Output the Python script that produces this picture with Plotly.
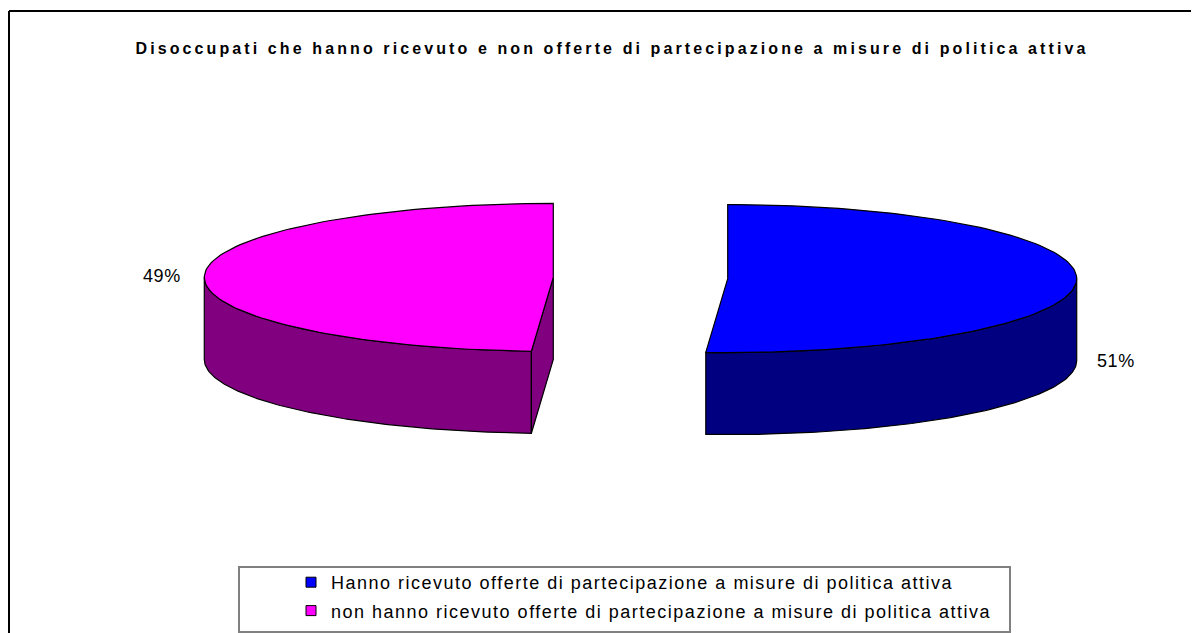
import numpy as np
import plotly.graph_objects as go

# ---------------- data ----------------
categories = [
    "Hanno ricevuto offerte di partecipazione a misure di politica attiva",
    "non hanno ricevuto offerte di partecipazione a misure di politica attiva",
]
values = [51, 49]
title_text = "Disoccupati che hanno ricevuto e non offerte di partecipazione a misure di politica attiva"

# ---------------- style ----------------
top_colors = ["#0000FF", "#FF00FF"]
side_colors = ["#000080", "#800080"]
W, H = 1199, 633
OFF = 8                    # page body margin of the html page
CX, CY = 640.5, 278.0      # pie centre (pixels)
RX, RY = 349.0, 74.0       # ellipse radii of top face
DEPTH = 82.0               # thickness of the pie
EXPLODE = 0.25             # fraction of radius
OUTLINE = dict(color="black", width=1.2)

fig = go.Figure()

total = float(sum(values))
angles = np.cumsum([0] + [v / total * 360.0 for v in values])


def pt(theta, cx, cy, dz=0.0):
    t = np.radians(theta)
    return cx + RX * np.sin(t), cy - RY * np.cos(t) + dz


def arc(a, b, cx, cy, dz=0.0, n=120):
    th = np.linspace(a, b, n)
    t = np.radians(th)
    return list(cx + RX * np.sin(t)), list(cy - RY * np.cos(t) + dz)


def poly(xs, ys, color):
    fig.add_trace(go.Scatter(x=xs + [xs[0]], y=ys + [ys[0]], mode="lines", fill="toself",
                             fillcolor=color, line=OUTLINE, hoverinfo="skip",
                             showlegend=False))


label_pos = []
for i, v in enumerate(values):
    a, b = angles[i], angles[i + 1]
    m = (a + b) / 2.0
    mr = np.radians(m)
    cx = CX + EXPLODE * RX * np.sin(mr)
    cy = CY - EXPLODE * RY * np.cos(mr)
    # curved side (front half: 90..270)
    lo, hi = max(a, 90.0), min(b, 270.0)
    if hi > lo:
        tx, ty = arc(lo, hi, cx, cy)
        bx, by = arc(lo, hi, cx, cy, DEPTH)
        poly(tx + bx[::-1], ty + by[::-1], side_colors[i])
    # cut faces
    for edge, visible in ((a, np.sin(np.radians(a)) < -1e-9), (b, np.sin(np.radians(b)) > 1e-9)):
        if visible:
            ex, ey = pt(edge, cx, cy)
            poly([cx, ex, ex, cx], [cy, ey, ey + DEPTH, cy + DEPTH], side_colors[i])
    # top face
    tx, ty = arc(a, b, cx, cy)
    poly([cx] + tx, [cy] + ty, top_colors[i])
    rx_, ry_ = pt(m, cx, cy)
    label_pos.append((rx_, ry_, np.sin(mr)))

# percentage labels
lab_font = dict(family="Liberation Sans", size=18, color="black")
for i, (lx, ly, s) in enumerate(label_pos):
    txt = f"<span style='letter-spacing:0.6px'>{values[i] / total * 100:.0f}%</span>"
    if s >= 0:
        fig.add_annotation(x=lx + 18, y=ly + DEPTH - 2, text=txt, xanchor="left", yanchor="middle",
                           showarrow=False, font=lab_font)
    else:
        fig.add_annotation(x=lx - 21, y=ly + 1, text=txt, xanchor="right", yanchor="middle",
                           showarrow=False, font=lab_font)

# legend entries
for i, c in enumerate(categories):
    fig.add_trace(go.Scatter(x=[None], y=[None], mode="markers",
                             name=f"<span style='letter-spacing:1.5px'>{c}</span>",
                             legendgroup=f"g{i}",
                             marker=dict(symbol="square", size=10, color=top_colors[i],
                                         line=dict(color="black", width=1))))

# chart frame and legend box
fig.add_shape(type="line", x0=9, x1=1199, y0=11, y1=11, line=dict(color="black", width=2), layer="above")
fig.add_shape(type="line", x0=9, x1=9, y0=11, y1=633, line=dict(color="black", width=2), layer="above")
fig.add_shape(type="rect", x0=239, x1=1010, y0=567, y1=632, line=dict(color="#808080", width=2),
              fillcolor="rgba(0,0,0,0)", layer="above")

PW, PH = W - OFF, H - OFF
fig.update_layout(
    width=PW, height=PH,
    margin=dict(l=0, r=0, t=0, b=0),
    paper_bgcolor="white", plot_bgcolor="white",
    xaxis=dict(range=[OFF, W], visible=False, fixedrange=True),
    yaxis=dict(range=[H, OFF], visible=False, fixedrange=True),
    title=dict(text=f"<b><span style='letter-spacing:3.1px'>{title_text}</span></b>",
               x=(612 - OFF) / PW, xanchor="center", y=1 - (48 - OFF) / PH, yanchor="middle",
               font=dict(family="Liberation Sans", size=16, color="black")),
    legend=dict(x=(291 - OFF) / PW, y=1 - (564 - OFF) / PH, xanchor="left", yanchor="top",
                bgcolor="rgba(0,0,0,0)", borderwidth=0, tracegroupgap=2,
                font=dict(family="Liberation Sans", size=18, color="black")),
    showlegend=True,
)

fig.write_html("out.html")
